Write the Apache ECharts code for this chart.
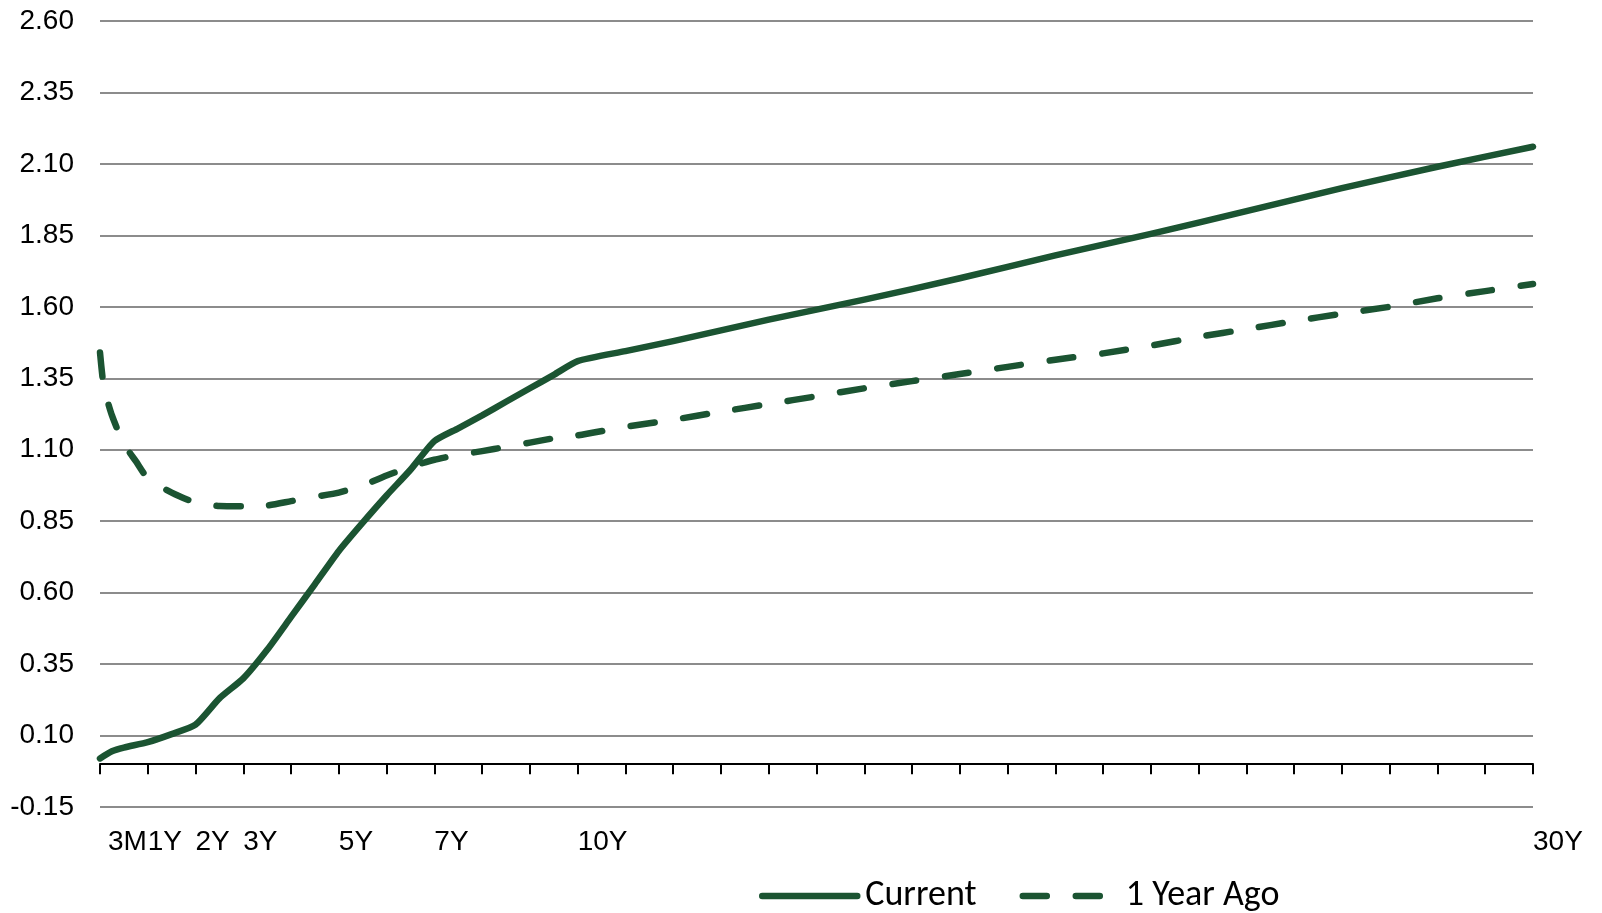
<!DOCTYPE html>
<html>
<head>
<meta charset="utf-8">
<script src="https://cdn.jsdelivr.net/npm/echarts@6/dist/echarts.min.js"></script>
<style>
  html, body { margin: 0; padding: 0; background: #fff; }
  #chart { width: 1602px; height: 913px; }
</style>
</head>
<body>
<div id="chart"></div>
<script>
// maturity (years) and yield
var curMat = [0, 0.25, 0.5, 1, 1.5, 2, 2.5, 3, 3.5, 4, 4.5, 5, 5.5, 6, 6.5, 7, 7.5, 8, 8.5, 9, 9.5, 10, 11, 12, 14, 16, 18, 20, 22, 24, 26, 28, 30];
var curYld = [0.02, 0.045, 0.058, 0.077, 0.105, 0.138, 0.23, 0.30, 0.40, 0.515, 0.63, 0.746, 0.845, 0.94, 1.03, 1.13, 1.175, 1.22, 1.268, 1.315, 1.362, 1.41, 1.445, 1.48, 1.555, 1.625, 1.70, 1.78, 1.855, 1.935, 2.015, 2.09, 2.16];

var agoMat = [0, 0.08, 0.25, 0.5, 0.75, 1, 1.5, 2, 2.5, 3, 3.5, 4, 4.5, 5, 5.5, 6, 6.5, 7, 7.5, 8, 8.5, 9, 9.5, 10, 11, 12, 13, 14, 15, 16, 17, 18, 19, 20, 21, 22, 23, 24, 25, 26, 27, 28, 29, 30];
var agoYld = [1.44, 1.32, 1.22, 1.12, 1.06, 1.0, 0.95, 0.915, 0.903, 0.902, 0.905, 0.92, 0.935, 0.95, 0.975, 1.01, 1.04, 1.065, 1.082, 1.095, 1.11, 1.125, 1.14, 1.15, 1.18, 1.205, 1.233, 1.26, 1.287, 1.315, 1.34, 1.365, 1.39, 1.415, 1.437, 1.464, 1.495, 1.522, 1.55, 1.576, 1.60, 1.63, 1.655, 1.68];

var tickYears = [0, 1, 2, 3, 5, 7, 10, 30];
var tickNames = ['3M', '1Y', '2Y', '3Y', '5Y', '7Y', '10Y', '30Y'];

var green = '#1b5432';

function pairs(xs, ys) {
    return xs.map(function (x, i) { return [x, ys[i]]; });
}

var chart = echarts.init(document.getElementById('chart'));
chart.setOption({
    animation: false,
    grid: { left: 100, right: 69, top: 21, bottom: 106 },
    legend: {
        data: ['Current', '1 Year Ago'],
        top: 873,
        left: 754,
        itemWidth: 95,
        itemHeight: 10,
        itemGap: 43,
        itemStyle: { opacity: 0 },
        lineStyle: { width: 6.5, cap: 'round' },
        textStyle: {
            fontFamily: 'Carlito, Lato, sans-serif',
            fontSize: 36,
            color: '#000',
            padding: [0, 0, 0, 3]
        }
    },
    xAxis: {
        type: 'value',
        min: 0,
        max: 30,
        interval: 1,
        splitLine: { show: false },
        axisLine: { onZero: true, lineStyle: { color: '#000', width: 2 } },
        axisTick: { length: 10, lineStyle: { color: '#000', width: 2 } },
        axisLabel: {
            align: 'left',
            margin: 21,
            fontFamily: 'Liberation Sans, Arial, sans-serif',
            fontSize: 28,
            color: '#000',
            formatter: function (v) {
                var i = tickYears.indexOf(v);
                if (i < 0) return '';
                return i === 0 ? '{m|' + tickNames[i] + '}' : tickNames[i];
            },
            rich: {
                m: {
                    fontFamily: 'Liberation Sans, Arial, sans-serif',
                    fontSize: 28,
                    color: '#000',
                    padding: [0, 0, 0, 8]
                }
            }
        }
    },
    yAxis: {
        type: 'value',
        min: -0.15,
        max: 2.6,
        interval: 0.25,
        axisLine: { show: false },
        axisTick: { show: false },
        splitLine: { lineStyle: { color: '#8c8c8c', width: 2 } },
        axisLabel: {
            margin: 26,
            fontFamily: 'Liberation Sans, Arial, sans-serif',
            fontSize: 28,
            color: '#000',
            formatter: function (v) { return v.toFixed(2); }
        }
    },
    series: [
        {
            name: 'Current',
            type: 'line',
            symbol: 'none',
            smooth: 0.2,
            itemStyle: { color: green },
            lineStyle: { color: green, width: 6.5, cap: 'round', join: 'round' },
            data: pairs(curMat, curYld)
        },
        {
            name: '1 Year Ago',
            type: 'line',
            symbol: 'none',
            smooth: 0.2,
            itemStyle: { color: green },
            lineStyle: { color: green, width: 6.5, type: [24, 29], cap: 'round', join: 'round' },
            data: pairs(agoMat, agoYld)
        }
    ]
});
</script>
</body>
</html>
